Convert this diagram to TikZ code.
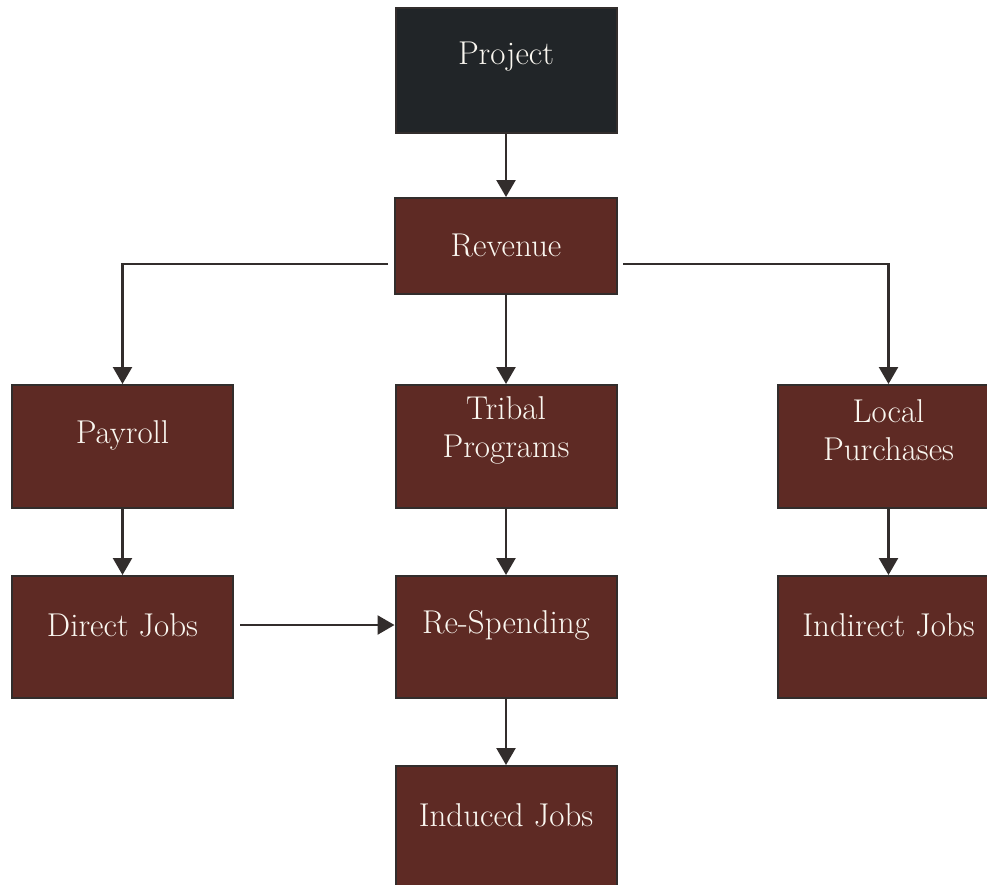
\documentclass[tikz,border=0pt]{standalone}
\usetikzlibrary{arrows.meta}
\definecolor{boxbrown}{RGB}{94,42,36}
\definecolor{boxdark}{RGB}{33,37,40}
\definecolor{edgegray}{RGB}{50,45,44}
\definecolor{txtcream}{RGB}{250,247,240}
\tikzset{
  box/.style={draw=edgegray, line width=2pt, fill=boxbrown, rectangle, inner sep=0pt, minimum width=221pt, minimum height=122pt},
  darkbox/.style={box, fill=boxdark},
  lbl/.style={text=txtcream, align=center, font=\fontsize{33}{38}\selectfont, inner sep=0pt},
  conn/.style={draw=edgegray, line width=2.4pt, -{Triangle[width=19pt,length=17pt]}},
}
\begin{document}
\begin{tikzpicture}[x=1pt,y=-1pt]
\useasboundingbox (0,0) rectangle (987,884);
\clip (0,0) rectangle (987,884);
\fill[white] (0,0) rectangle (987,884);
% boxes
\node[darkbox, minimum height=125pt] (project) at (506,70.5) {};
\node[box, minimum width=222pt, minimum height=96pt] (revenue) at (506,246) {};
\node[box, minimum height=123pt] (payroll) at (122.5,446.5) {};
\node[box, minimum height=123pt] (tribal) at (506,446.5) {};
\node[box, minimum height=123pt] (local) at (888.5,446.5) {};
\node[box] (direct) at (122.5,637) {};
\node[box] (respend) at (506,637) {};
\node[box] (indirect) at (888.5,637) {};
\node[box, minimum height=120pt] (induced) at (506,826) {};
% labels
\node[lbl] (tproject) at (506,57) {Project};
\node[lbl] (trevenue) at (506,245) {Revenue};
\node[lbl] (tpayroll) at (122.5,435) {Payroll};
\node[lbl] (ttribal) at (506,430) {Tribal\\Programs};
\node[lbl] (tlocal) at (888.5,430) {Local\\Purchases};
\node[lbl] (tdirect) at (122.5,625) {Direct Jobs};
\node[lbl] (trespend) at (506,625) {Re-Spending};
\node[lbl] (tindirect) at (888.5,625) {Indirect Jobs};
\node[lbl] (tinduced) at (506,815) {Induced Jobs};
% connectors
\coordinate (rl) at (388,264);
\coordinate (rr) at (623,264);
\coordinate (dj) at (240,625);
\draw[conn] (project.south) -- (revenue.north);
\draw[conn] (rl) -| (payroll.north);
\draw[conn] (rr) -| (local.north);
\draw[conn] (revenue.south) -- (tribal.north);
\draw[conn] (payroll.south) -- (direct.north);
\draw[conn] (tribal.south) -- (respend.north);
\draw[conn] (local.south) -- (indirect.north);
\draw[conn] (dj) -- (dj -| respend.west);
\draw[conn] (respend.south) -- (induced.north);
\end{tikzpicture}
\end{document}
